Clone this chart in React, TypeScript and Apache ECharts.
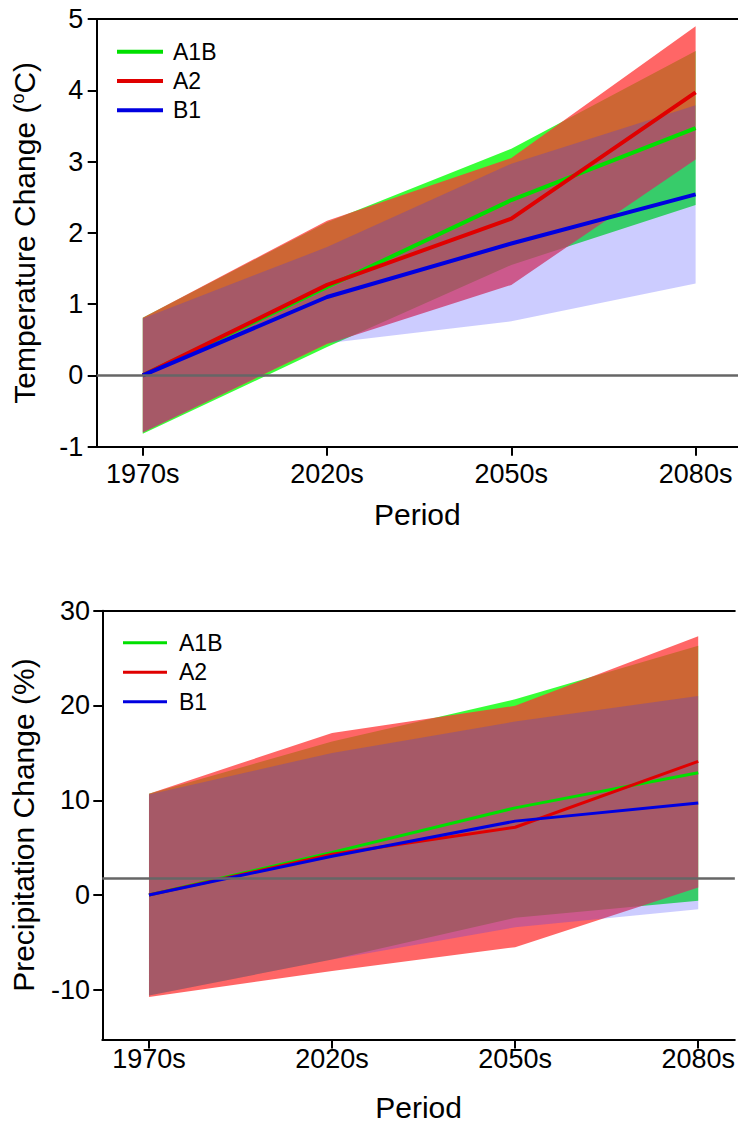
import React, { useEffect, useRef } from 'react';
import * as echarts from 'echarts';

const periods = ['1970s', '2020s', '2050s', '2080s'];
const scenarios = ['A1B', 'A2', 'B1'];
const lineColors = ['#00e000', '#e00000', '#0000e0'];
const bandColors = ['rgba(0,255,0,0.78)', 'rgba(255,51,51,0.75)', 'rgba(51,51,255,0.25)'];

// Temperature change (°C)
const tempA1B = [0, 1.24, 2.46, 3.47];
const tempA2 = [0, 1.27, 2.2, 3.97];
const tempB1 = [0, 1.1, 1.85, 2.54];
const tempA1BLow = [-0.82, 0.4, 1.55, 2.39];
const tempA1BHigh = [0.81, 2.15, 3.18, 4.55];
const tempA2Low = [-0.8, 0.44, 1.27, 3.03];
const tempA2High = [0.81, 2.17, 3.05, 4.9];
const tempB1Low = [-0.8, 0.45, 0.76, 1.29];
const tempB1High = [0.8, 1.8, 2.97, 3.79];
const tempRef = 0;

// Precipitation change (%)
const precA1B = [0, 4.5, 9.2, 12.9];
const precA2 = [0, 4.3, 7.15, 14.1];
const precB1 = [0, 4.1, 7.8, 9.7];
const precA1BLow = [-10.6, -6.8, -2.4, -0.6];
const precA1BHigh = [10.7, 16.2, 20.66, 26.3];
const precA2Low = [-10.75, -8.0, -5.5, 0.8];
const precA2High = [10.7, 17.1, 19.96, 27.3];
const precB1Low = [-10.6, -6.8, -3.4, -1.5];
const precB1High = [10.6, 15.0, 18.3, 21.0];
const precRef = 1.75;

const tempTicks = [-1, 0, 1, 2, 3, 4, 5];
const precTicks = [-10, 0, 10, 20, 30];
const periodTicks = [0, 1, 2, 3];

const FONT = '"Liberation Sans", Arial, Helvetica, sans-serif';

function band(name: string, low: number[], high: number[], color: string, idx: number) {
  return {
    type: 'custom',
    name,
    xAxisIndex: idx === 0 ? 0 : 2,
    yAxisIndex: idx,
    silent: true,
    z: 1,
    data: low.map((v, i) => [i, v, high[i]]),
    encode: { x: 0, y: [1, 2] },
    renderItem: (params: any, api: any) => {
      if (params.dataIndex !== 0) return null;
      const pts: number[][] = [];
      for (let i = 0; i < high.length; i++) pts.push(api.coord([i, high[i]]));
      for (let i = low.length - 1; i >= 0; i--) pts.push(api.coord([i, low[i]]));
      return { type: 'polygon', shape: { points: pts }, style: { fill: color, stroke: null } };
    },
  };
}

function line(name: string, vals: number[], color: string, idx: number, width: number) {
  return {
    type: 'line',
    name,
    xAxisIndex: idx === 0 ? 0 : 2,
    yAxisIndex: idx,
    z: 4,
    color,
    symbol: 'none',
    showSymbol: false,
    silent: true,
    lineStyle: { color, width },
    itemStyle: { color },
    data: vals.map((v, i) => [i, v]),
  };
}

function refLine(value: number, idx: number) {
  return {
    type: 'line',
    name: 'ref' + idx,
    xAxisIndex: idx === 0 ? 0 : 2,
    yAxisIndex: idx,
    z: 3,
    data: [],
    silent: true,
    markLine: {
      silent: true,
      symbol: ['none', 'none'],
      label: { show: false },
      lineStyle: { color: '#666666', width: 2.5, type: 'solid' },
      data: [{ yAxis: value }],
    },
  };
}

const axisLineStyle = { show: true, onZero: false, lineStyle: { color: '#000', width: 2 } };
const tickStyle = { show: true, length: 9, lineStyle: { color: '#000', width: 2 } };

function xAxisMain(gridIndex: number, min: number, max: number, labelMargin: number) {
  return {
    type: 'value',
    gridIndex,
    position: 'bottom',
    min,
    max,
    axisLine: axisLineStyle,
    axisTick: { ...tickStyle, customValues: periodTicks },
    axisLabel: {
      customValues: periodTicks,
      formatter: (v: number) => periods[Math.round(v)] ?? '',
      fontSize: 27,
      fontFamily: FONT,
      color: '#000',
      margin: labelMargin,
    },
    splitLine: { show: false },
    name: 'Period',
    nameLocation: 'middle',
    nameGap: 52.5,
    nameTextStyle: { fontSize: 30, fontFamily: FONT, color: '#000' },
  };
}

function xAxisTop(gridIndex: number, min: number, max: number) {
  return {
    type: 'value',
    gridIndex,
    position: 'top',
    min,
    max,
    axisLine: axisLineStyle,
    axisTick: { show: false },
    axisLabel: { show: false },
    splitLine: { show: false },
  };
}

export default function App() {
  const ref = useRef<HTMLDivElement>(null);
  useEffect(() => {
    if (!ref.current) return;
    const chart = echarts.init(ref.current, undefined, { renderer: 'svg' });
    const tempLines = [tempA1B, tempA2, tempB1];
    const tempLows = [tempA1BLow, tempA2Low, tempB1Low];
    const tempHighs = [tempA1BHigh, tempA2High, tempB1High];
    const precLines = [precA1B, precA2, precB1];
    const precLows = [precA1BLow, precA2Low, precB1Low];
    const precHighs = [precA1BHigh, precA2High, precB1High];

    const series: any[] = [];
    scenarios.forEach((s, k) => series.push(band(s + ' range', tempLows[k], tempHighs[k], bandColors[k], 0)));
    series.push(refLine(tempRef, 0));
    scenarios.forEach((s, k) => series.push(line(s, tempLines[k], lineColors[k], 0, 4)));
    scenarios.forEach((s, k) => series.push(band(s + ' range ', precLows[k], precHighs[k], bandColors[k], 1)));
    series.push(refLine(precRef, 1));
    scenarios.forEach((s, k) => series.push(line(s, precLines[k], lineColors[k], 1, 3)));

    chart.setOption({
      animation: false,
      backgroundColor: '#fff',
      textStyle: { fontFamily: FONT },
      grid: [
        { left: 96.7, top: 19, width: 641.3, height: 427.7, containLabel: false },
        { left: 102.3, top: 610.7, width: 635.7, height: 430, containLabel: false },
      ],
      legend: [
        {
          data: scenarios,
          orient: 'vertical',
          left: 117,
          top: 37,
          padding: 0,
          itemGap: 0,
          itemWidth: 46,
          itemHeight: 4,
          icon: 'rect',
          selectedMode: false,
          textStyle: { fontSize: 23, fontFamily: FONT, color: '#000', lineHeight: 29.3, padding: [0, 0, 0, 5] },
        },
        {
          data: scenarios,
          orient: 'vertical',
          left: 123,
          top: 628,
          padding: 0,
          itemGap: 0,
          itemWidth: 44,
          itemHeight: 3,
          icon: 'rect',
          selectedMode: false,
          textStyle: { fontSize: 23, fontFamily: FONT, color: '#000', lineHeight: 29.5, padding: [0, 0, 0, 7] },
        },
      ],
      xAxis: [
        xAxisMain(0, -0.25, 3.23, 14),
        xAxisTop(0, -0.25, 3.23),
        xAxisMain(1, -0.255, 3.2, 6),
        xAxisTop(1, -0.255, 3.2),
      ],
      yAxis: [
        {
          type: 'value',
          gridIndex: 0,
          min: -1,
          max: 5,
          interval: 1,
          axisLine: axisLineStyle,
          axisTick: { ...tickStyle, customValues: tempTicks },
          axisLabel: { customValues: tempTicks, fontSize: 27, fontFamily: FONT, color: '#000', margin: 13.4 },
          splitLine: { show: false },
          name: '{t|Temperature Change (}{s|o}{t|C)}',
          nameLocation: 'middle',
          nameGap: 57.7,
          nameTextStyle: {
            fontFamily: FONT,
            color: '#000',
            fontSize: 30,
            rich: {
              t: { fontSize: 30, fontFamily: FONT, color: '#000' },
              s: { fontSize: 18, fontFamily: FONT, color: '#000', verticalAlign: 'top' },
            },
          },
        },
        {
          type: 'value',
          gridIndex: 1,
          min: -15.24,
          max: 30,
          axisLine: axisLineStyle,
          axisTick: { ...tickStyle, customValues: precTicks },
          axisLabel: { customValues: precTicks, fontSize: 27, fontFamily: FONT, color: '#000', margin: 12.3 },
          splitLine: { show: false },
          name: 'Precipitation Change (%)',
          nameLocation: 'middle',
          nameGap: 64,
          nameTextStyle: { fontFamily: FONT, color: '#000', fontSize: 30 },
        },
      ],
      series,
    });
    return () => chart.dispose();
  }, []);
  return (
    <div
      ref={ref}
      style={{ position: 'absolute', left: 0, top: 0, width: 738, height: 1123, background: '#fff' }}
    />
  );
}
